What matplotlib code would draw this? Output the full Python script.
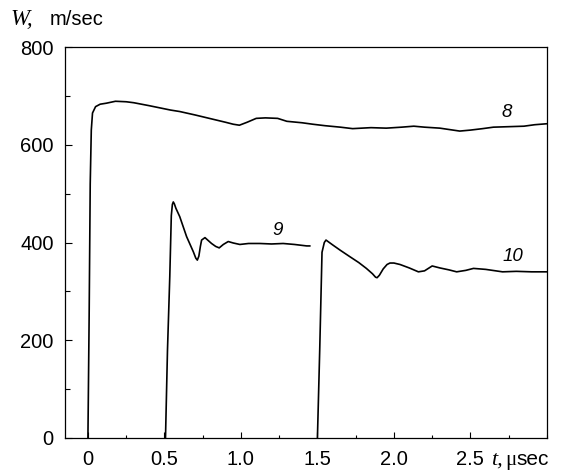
import numpy as np
import matplotlib
matplotlib.use("Agg")
import matplotlib.pyplot as plt
from matplotlib.ticker import MultipleLocator, FixedLocator

# Curve 8
t8 = [0.0, 0.008, 0.015, 0.022, 0.03, 0.05, 0.08, 0.12, 0.18, 0.25, 0.3, 0.4,
      0.54, 0.6, 0.7, 0.82, 0.9, 0.95, 0.99, 1.04, 1.1, 1.16, 1.24, 1.3, 1.4,
      1.47, 1.55, 1.65, 1.73, 1.85, 1.95, 2.05, 2.13, 2.2, 2.3, 2.43, 2.5,
      2.58, 2.65, 2.75, 2.85, 2.92, 3.0]
w8 = [0, 250, 520, 630, 665, 678, 683, 685, 689, 688, 686, 680,
      671, 668, 661, 652, 646, 642, 640, 646, 654, 655, 654, 648, 645,
      642, 639, 636, 633, 635, 634, 636, 638, 636, 634, 628, 630,
      633, 636, 637, 638, 641, 643]

# Curve 9
t9 = [0.507, 0.52, 0.535, 0.545, 0.552, 0.558, 0.565, 0.575, 0.6, 0.645,
      0.689, 0.705, 0.715, 0.725, 0.735, 0.743, 0.765, 0.79, 0.808, 0.835,
      0.858, 0.885, 0.917, 0.95, 0.993, 1.05, 1.124, 1.2, 1.276, 1.35,
      1.43, 1.45]
w9 = [0, 180, 330, 455, 478, 483, 479, 470, 453, 412,
      381, 368, 364, 372, 392, 405, 410, 403, 398, 392,
      389, 396, 402, 399, 396, 398, 398, 397, 398, 396,
      393, 393]

# Curve 10
t10 = [1.5, 1.515, 1.53, 1.545, 1.556, 1.6, 1.65, 1.712, 1.77, 1.82, 1.86,
       1.88, 1.89, 1.905, 1.93, 1.955, 1.974, 2.0, 2.04, 2.1, 2.16, 2.2,
       2.25, 2.3, 2.36, 2.41, 2.47, 2.52, 2.6, 2.71, 2.8, 2.9, 3.0]
w10 = [0, 180, 380, 400, 405, 395, 384, 371, 359, 347, 336,
       329, 328, 333, 346, 355, 358, 358, 355, 348, 340, 342,
       352, 348, 344, 340, 343, 347, 345, 340, 341, 340, 340]

curve_labels = ["8", "9", "10"]
label_pos = [(2.74, 665), (1.24, 425), (2.78, 372)]

fig = plt.figure(figsize=(5.65, 4.73), dpi=100)
ax = fig.add_axes([0.115, 0.074, 0.853, 0.8266])

for t, w in [(t8, w8), (t9, w9), (t10, w10)]:
    ax.plot(t, w, color="black", linewidth=1.2)

for lab, (x, y) in zip(curve_labels, label_pos):
    ax.text(x, y, lab, fontsize=13.5, style="italic", family="Liberation Sans",
            ha="center", va="center")

ax.set_xlim(-0.15, 3.0)
ax.set_ylim(0, 800)

ax.xaxis.set_major_locator(FixedLocator([0, 0.5, 1.0, 1.5, 2.0, 2.5]))
ax.set_xticklabels(["0", "0.5", "1.0", "1.5", "2.0", "2.5"])
ax.xaxis.set_minor_locator(MultipleLocator(0.25))
ax.yaxis.set_major_locator(MultipleLocator(200))
ax.yaxis.set_minor_locator(MultipleLocator(100))

ax.tick_params(axis="x", which="major", direction="in", length=4, width=0.8,
               pad=9, labelsize=14.5)
ax.tick_params(axis="x", which="minor", direction="in", length=2.5, width=0.8)
ax.tick_params(axis="y", which="major", direction="in", length=5, width=0.8,
               pad=8, labelsize=14.5)
ax.tick_params(axis="y", which="minor", direction="in", length=3.5, width=0.8)
for lab in ax.get_xticklabels() + ax.get_yticklabels():
    lab.set_family("Liberation Sans")
for sp in ax.spines.values():
    sp.set_linewidth(0.9)

# axis titles
fig.text(10 / 565, 1 - 25 / 473, "W,", family="Liberation Serif", style="italic",
         fontsize=16.5, va="baseline")
fig.text(50 / 565, 1 - 25 / 473, "m/sec", family="Liberation Sans",
         fontsize=14.5, va="baseline")
fig.text(491 / 565, 1 - 465 / 473, "t,", family="Liberation Serif", style="italic",
         fontsize=16, va="baseline")
fig.text(505 / 565, 1 - 465 / 473, "\u03bc", family="Liberation Serif",
         fontsize=15, va="baseline")
fig.text(516 / 565, 1 - 465 / 473, "sec", family="Liberation Sans",
         fontsize=15, va="baseline")

fig.savefig("out.png", dpi=100)
